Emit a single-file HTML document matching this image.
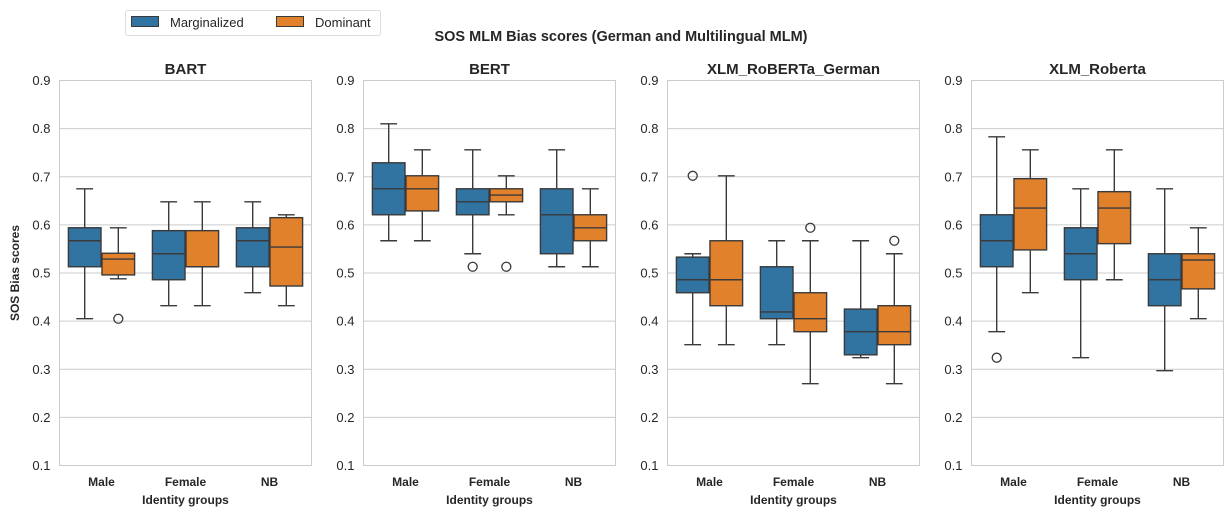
<!DOCTYPE html>
<html><head><meta charset="utf-8"><style>
body{margin:0;background:#fff;font-family:"Liberation Sans",Arial,sans-serif;}
svg text{font-family:"Liberation Sans",Arial,sans-serif;fill:#262626;}
</style></head><body>
<svg id="chart" width="1231" height="518" xmlns="http://www.w3.org/2000/svg">
<rect width="1231" height="518" fill="#fff"/>
<text x="621" y="41" text-anchor="middle" font-size="14.5" font-weight="bold">SOS MLM Bias scores (German and Multilingual MLM)</text>
<g>
<rect x="125.5" y="10.5" width="255" height="25" rx="2" fill="#fff" stroke="#ddd"/>
<rect x="131.5" y="16.5" width="27" height="10" fill="#3274a1" stroke="#3a3a3a"/>
<text x="170" y="27" font-size="13">Marginalized</text>
<rect x="276.5" y="16.5" width="27" height="10" fill="#e1812c" stroke="#3a3a3a"/>
<text x="315" y="27" font-size="13">Dominant</text>
</g>
</svg>
<script>
const panels = ["BART","BERT","XLM_RoBERTa_German","XLM_Roberta"];
const categories = ["Male","Female","NB"];
const series = ["Marginalized","Dominant"];
const yTicks = [0.1,0.2,0.3,0.4,0.5,0.6,0.7,0.8,0.9];
// [min, q1, median, q3, max] per panel -> category -> series
const bartStats = [
 [[0.405,0.513,0.567,0.594,0.675],[0.488,0.496,0.529,0.541,0.594]],
 [[0.432,0.486,0.540,0.588,0.648],[0.432,0.513,0.513,0.588,0.648]],
 [[0.459,0.513,0.567,0.594,0.648],[0.432,0.473,0.554,0.615,0.621]]];
const bertStats = [
 [[0.567,0.621,0.675,0.729,0.810],[0.567,0.629,0.675,0.702,0.756]],
 [[0.540,0.621,0.648,0.675,0.756],[0.621,0.648,0.662,0.675,0.702]],
 [[0.513,0.540,0.621,0.675,0.756],[0.513,0.567,0.594,0.621,0.675]]];
const xlmGerStats = [
 [[0.351,0.459,0.486,0.533,0.540],[0.351,0.432,0.486,0.567,0.702]],
 [[0.351,0.405,0.419,0.513,0.567],[0.270,0.378,0.405,0.459,0.567]],
 [[0.324,0.330,0.378,0.425,0.567],[0.270,0.351,0.378,0.432,0.540]]];
const xlmStats = [
 [[0.378,0.513,0.567,0.621,0.783],[0.459,0.548,0.635,0.696,0.756]],
 [[0.324,0.486,0.540,0.594,0.675],[0.486,0.561,0.635,0.669,0.756]],
 [[0.297,0.432,0.486,0.540,0.675],[0.405,0.467,0.527,0.540,0.594]]];
const bartOutliers = [[[],[0.405]],[[],[]],[[],[]]];
const bertOutliers = [[[],[]],[[0.513],[0.513]],[[],[]]];
const xlmGerOutliers = [[[0.702],[]],[[],[0.594]],[[],[0.567]]];
const xlmOutliers = [[[0.324],[]],[[],[]],[[],[]]];
const allStats=[bartStats,bertStats,xlmGerStats,xlmStats];
const allOut=[bartOutliers,bertOutliers,xlmGerOutliers,xlmOutliers];
const colors=["#3274a1","#e1812c"];
const NS="http://www.w3.org/2000/svg";
const svg=document.getElementById('chart');
const axL=[59.5,363.5,667.5,971.5], axW=252, axT=80.5, axB=465.5;
const yMin=0.1,yMax=0.9;
function yS(v){return axB-(v-yMin)/(yMax-yMin)*(axB-axT);}
function mk(tag,attrs,parent){const e=document.createElementNS(NS,tag);for(const k in attrs)e.setAttribute(k,attrs[k]);(parent||svg).appendChild(e);return e;}
panels.forEach((p,pi)=>{
 const L=axL[pi];
 const g=mk('g',{});
 
 
 const bw=axW/categories.length;
 function xS(ci){return L+bw*(ci+0.5);}
 mk('rect',{x:L,y:axT,width:axW,height:axB-axT,fill:'#fff',stroke:'#cccccc'},g);
 yTicks.forEach(t=>{
  const y=yS(t);
  const ln=mk('line',{x1:L,x2:L+axW,y1:y,y2:y,stroke:'#cccccc','stroke-width':1},g);
  
  
  const tx=mk('text',{x:L-9,y:y+4.5,'text-anchor':'end','font-size':13},g);
  tx.textContent=t.toFixed(1);
  
  
 });
 const ti=mk('text',{x:L+axW/2,y:74,'text-anchor':'middle','font-size':15,'font-weight':'bold'},g);
 ti.textContent=p;
 
 
 categories.forEach((c,ci)=>{
  const tx=mk('text',{x:xS(ci),y:486,'text-anchor':'middle','font-size':12,'font-weight':'bold'},g);
  tx.textContent=c;
  
  
  series.forEach((s,si)=>{
   const st=allStats[pi][ci][si];
   const boxW=bw*0.8/2;
   const x0=xS(ci)-bw*0.4+si*boxW+0.5, x1=x0+boxW-1, xc=(x0+x1)/2, cap=boxW/2;
   const bg=mk('g',{},g);
   
   
   const lc='#3a3a3a';
   mk('line',{x1:xc,x2:xc,y1:yS(st[0]),y2:yS(st[1]),stroke:lc,'stroke-width':1.4},bg);
   mk('line',{x1:xc,x2:xc,y1:yS(st[3]),y2:yS(st[4]),stroke:lc,'stroke-width':1.4},bg);
   mk('line',{x1:xc-cap/2,x2:xc+cap/2,y1:yS(st[0]),y2:yS(st[0]),stroke:lc,'stroke-width':1.4},bg);
   mk('line',{x1:xc-cap/2,x2:xc+cap/2,y1:yS(st[4]),y2:yS(st[4]),stroke:lc,'stroke-width':1.4},bg);
   mk('rect',{x:x0,y:yS(st[3]),width:x1-x0,height:yS(st[1])-yS(st[3]),fill:colors[si],stroke:lc,'stroke-width':1.4},bg);
   mk('line',{x1:x0,x2:x1,y1:yS(st[2]),y2:yS(st[2]),stroke:lc,'stroke-width':1.4},bg);
   allOut[pi][ci][si].forEach(o=>{
    const cc=mk('circle',{cx:xc,cy:yS(o),r:4.5,fill:'none',stroke:lc,'stroke-width':1.3},bg);
    
    
   });
  });
 });
 const xl=mk('text',{x:L+axW/2,y:504,'text-anchor':'middle','font-size':12,'font-weight':'bold'},g);
 xl.textContent='Identity groups';
 
 
});
const yl=mk('text',{x:0,y:0,'text-anchor':'middle','font-size':12,'font-weight':'bold',transform:'translate(19,273) rotate(-90)'});
yl.textContent='SOS Bias scores';


</script>
</body></html>
